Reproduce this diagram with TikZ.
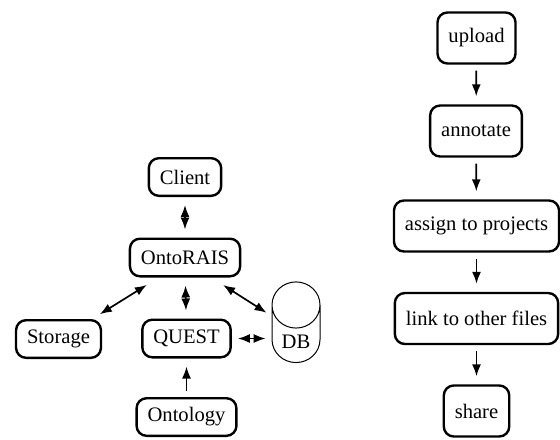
\documentclass[tikz,border=0pt]{standalone}
\usepackage{fontspec}
\setmainfont{Liberation Serif}
\usetikzlibrary{arrows.meta,shapes.geometric}

\begin{document}
\begin{tikzpicture}[x=0.5pt,y=-0.5pt,>={Latex[length=6pt,width=4.5pt]},
  box/.style={draw,line width=1.2pt,rounded corners=5pt,inner xsep=5.5pt,font=\fontsize{10.3}{12}\selectfont},
  sbox/.style={box,minimum height=18.8pt},
  tbox/.style={box,minimum height=25.5pt},
  link/.style={line width=0.85pt,shorten <=4pt,shorten >=4pt}]
\useasboundingbox (0,0) rectangle (560,439);
% system parts
\node[sbox] (client) at (185,177) {Client};
\node[sbox] (onto) at (185,257.5) {OntoRAIS};
\node[sbox] (storage) at (58.5,339) {Storage};
\node[sbox] (quest) at (186.5,338.5) {QUEST};
\node[sbox] (ontology) at (186.5,417) {Ontology};
\node[draw,line width=0.5pt,cylinder,shape border rotate=90,aspect=1.1,minimum width=24pt,minimum height=40pt,
  font=\fontsize{10.3}{12}\selectfont] (db) at (296,342) {DB};
\draw[link,<->] (client) -- (onto);
\draw[link,<->] (onto) -- (quest);
\draw[link,<->,shorten <=4.5pt,shorten >=7pt] ([xshift=-5pt]storage.north east) -- ([xshift=15pt]onto.south west);
\draw[link,<->,shorten <=7pt,shorten >=3pt] ([xshift=-15pt]onto.south east) -- ([yshift=13pt]db.west);
\draw[link,<->,shorten <=3pt,shorten >=3pt] (quest.east) -- (quest.east -| db.west);
\draw[link,->,shorten <=3pt] (ontology) -- (quest);
% workflow
\node[tbox] (upload) at (476.5,38) {upload};
\node[tbox] (annotate) at (476,131) {annotate};
\node[tbox] (assign) at (476.5,226) {assign to projects};
\node[tbox] (linkfiles) at (476.5,318.5) {link to other files};
\node[tbox] (share) at (476.5,411) {share};
\foreach \a/\b in {upload/annotate,annotate/assign,assign/linkfiles,linkfiles/share}
  \draw[link,->,shorten <=3pt] (\a) -- (\b);
\end{tikzpicture}
\end{document}
